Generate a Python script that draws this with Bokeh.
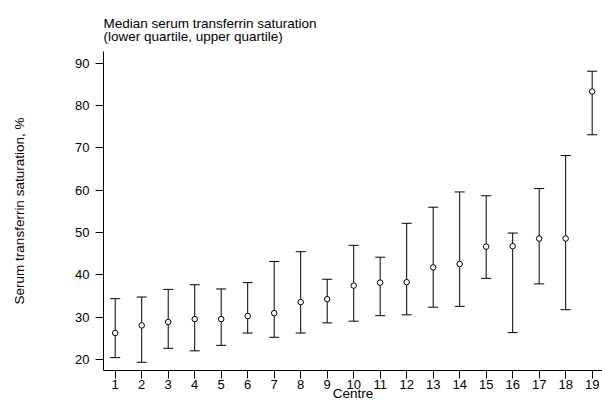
from bokeh.plotting import figure
from bokeh.models import Range1d, FixedTicker, ColumnDataSource, Title
from bokeh.embed import file_html
from bokeh.resources import INLINE

# ---- data ----
centres = list(range(1, 20))
median = [26.3, 28.1, 28.9, 29.6, 29.6, 30.3, 31.0, 33.6, 34.3, 37.5,
          38.2, 38.3, 41.8, 42.6, 46.7, 46.8, 48.6, 48.6, 83.3]
lower_q = [20.5, 19.4, 22.7, 22.1, 23.4, 26.3, 25.3, 26.3, 28.7, 29.1,
           30.4, 30.6, 32.4, 32.6, 39.2, 26.4, 37.9, 31.8, 73.1]
upper_q = [34.4, 34.8, 36.6, 37.7, 36.7, 38.2, 43.2, 45.5, 39.0, 47.0,
           44.2, 52.2, 56.0, 59.6, 58.7, 49.9, 60.4, 68.2, 88.1]
y_ticks = [20, 30, 40, 50, 60, 70, 80, 90]

title_line1 = "Median serum transferrin saturation"
title_line2 = "(lower quartile, upper quartile)"
y_label = "Serum transferrin saturation, %"
x_label = "Centre"

FONT = "Liberation Sans"

x0, x1 = 0.558, 19.39
y0, y1 = 17.46, 92.75

src = ColumnDataSource(dict(x=centres, med=median, lo=lower_q, hi=upper_q))

p = figure(width=602, height=403, output_backend="svg", toolbar_location=None,
           x_range=Range1d(x0, x1), y_range=Range1d(y0, y1),
           min_border_left=103, min_border_top=51, min_border_bottom=31,
           min_border_right=0)
p.outline_line_color = None
p.xgrid.visible = False
p.ygrid.visible = False
p.background_fill_color = "white"
p.border_fill_color = "white"

p.title = Title(text=title_line1 + "\n" + title_line2, align="left",
                text_font=FONT, text_font_size="13.5px", text_font_style="normal",
                text_color="black", text_line_height=0.84, standoff=15)

for ax in (p.xaxis[0], p.yaxis[0]):
    ax.axis_line_color = "black"
    ax.axis_line_width = 1
    ax.major_tick_line_color = "black"
    ax.major_tick_in = 0
    ax.major_tick_out = 8
    ax.minor_tick_line_color = None
    ax.major_label_text_font = FONT
    ax.major_label_text_font_size = "13px"
    ax.major_label_text_color = "black"
    ax.axis_label_text_font = FONT
    ax.axis_label_text_font_size = "13.5px"
    ax.axis_label_text_font_style = "normal"
    ax.axis_label_text_color = "black"

p.xaxis[0].ticker = FixedTicker(ticks=centres)
p.xaxis[0].major_label_standoff = 1
p.xaxis[0].axis_label = x_label
p.xaxis[0].axis_label_standoff = -6

p.yaxis[0].ticker = FixedTicker(ticks=y_ticks)
p.yaxis[0].major_label_standoff = 6
p.yaxis[0].axis_label = y_label
p.yaxis[0].axis_label_standoff = 45

# whiskers
p.segment(x0="x", y0="lo", x1="x", y1="hi", source=src, line_color="black", line_width=1)
p.scatter(x="x", y="lo", source=src, marker="dash", size=10, line_color="black", line_width=1)
p.scatter(x="x", y="hi", source=src, marker="dash", size=10, line_color="black", line_width=1)
# medians
p.scatter(x="x", y="med", source=src, marker="circle", size=5.5, line_color="black",
          line_width=1, fill_color="white")

open("out.html", "w").write(file_html(p, INLINE))
